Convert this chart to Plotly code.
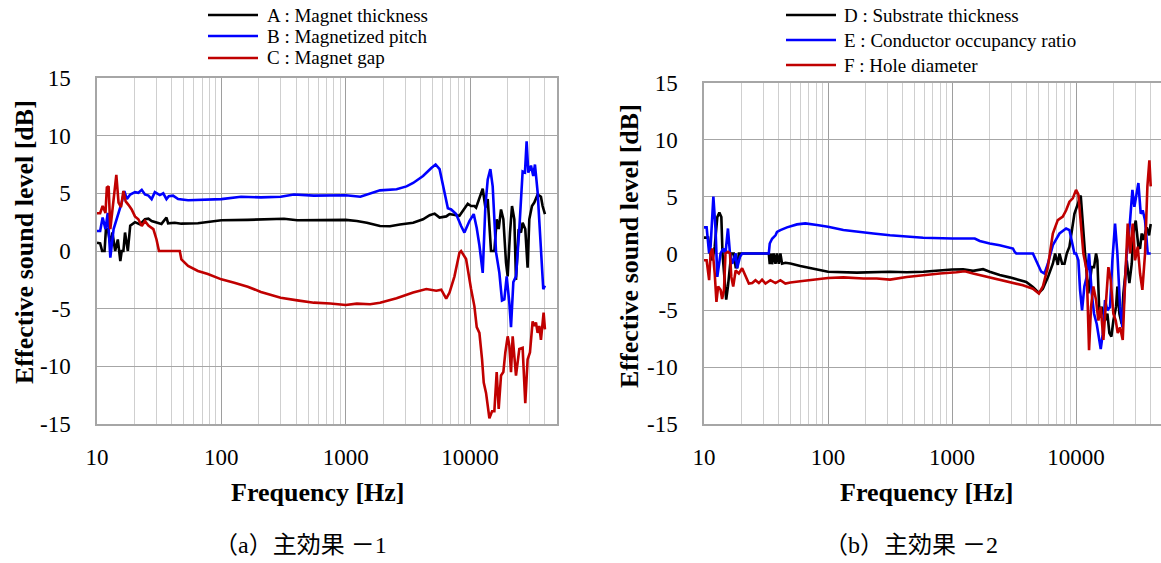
import plotly.graph_objects as go

# ---------------- data (frequency [Hz], effective sound level [dB]) ----------------
A_f = [10, 10.6, 11.0, 11.5, 11.8, 12.2, 12.8, 13.3, 14.0, 14.7, 15.4, 15.8, 16.3, 16.8, 17.7, 18.5,
       20.2, 22.2, 24.3, 25.9, 27.5, 30.1, 33.0, 36.2, 37.3, 42.2, 47.7, 64.8, 88.1, 100, 163, 300,
       319, 408, 554, 1000, 1228, 1477, 1887, 2268, 2726, 3484, 4186, 4732, 5188, 5687, 6429, 6826,
       8212, 9580, 10186, 10835, 11174, 11884, 12639, 13279, 13866, 14744, 15679, 16369, 16986,
       17737, 18518, 19455, 20064, 20947, 21737, 22693, 23401, 24583, 25660, 26461, 27795, 29020,
       29940, 31450, 32840, 34930, 37140, 38310, 40000]
A_v = [0.72, 0.66, 0.0, 0.0, 1.9, 1.9, 0.6, 1.6, 0.0, 1.0, -0.87, 0.0, 0.0, 1.6, 0.0, 2.2,
       2.5, 2.3, 2.75, 2.8, 2.6, 2.5, 2.35, 2.9, 2.4, 2.45, 2.37, 2.4, 2.6, 2.66, 2.7, 2.75,
       2.8, 2.66, 2.66, 2.7, 2.6, 2.45, 2.17, 2.14, 2.3, 2.45, 2.75, 3.1, 3.24, 2.9, 3.0, 3.2,
       3.05, 4.1, 3.9, 3.9, 3.76, 4.5, 5.4, 3.76, 4.5, 0.0, 0.0, 2.75, 1.9,
       3.6, 2.75, -1.0, -2.2, 1.6, 3.9, 2.75, -2.5, 1.9, 1.6, 2.45, 1.9, -1.45,
       2.75, 3.9, 4.2, 4.9, 4.7, 3.9, 3.2]

B_f = [10, 10.6, 11.1, 11.7, 12.2, 12.8, 13.6, 14.9, 15.8, 16.6, 17.4, 18.5, 20.2, 21.5, 22.9,
       24.3, 25.9, 27.5, 29.2, 32.0, 34.1, 36.2, 37.8, 40.9, 44.9, 54.0, 68.9, 100, 144, 208, 300,
       383, 554, 1000, 1312, 1571, 1887, 2564, 3082, 3484, 4186, 4880, 5284, 5687, 6236, 6628,
       7047, 7725, 8470, 9006, 9880, 10700, 11310, 11884, 12639, 13279, 13866, 14560, 15200,
       16170, 17200, 18060, 18860, 19700, 20690, 21337, 22279, 23401, 24885, 26461, 27625,
       28490, 29390, 30880, 32230, 33240, 34930, 37140, 38780, 40000]
B_v = [1.73, 1.73, 2.9, 1.9, 3.3, -0.58, 1.9, 3.3, 4.2, 5.2, 4.5, 4.9, 5.1, 5.05, 5.3,
       4.9, 4.8, 4.5, 5.1, 4.85, 5.0, 4.5, 4.75, 4.8, 4.5, 4.4, 4.45, 4.5, 4.7, 4.65, 4.7,
       4.9, 4.8, 4.83, 4.7, 5.0, 5.26, 5.35, 5.6, 5.9, 6.5, 7.2, 7.5, 7.1, 5.1, 3.7,
       3.6, 3.2, 2.17, 1.6, 2.6, 3.2, 2.0, 0.5, -1.9, 3.9, 6.2, 7.1, 5.6,
       -0.1, -1.9, -4.3, -4.2, -2.2, -4.5, -6.6, -2.7, -2.2, 1.9, 6.9, 6.8,
       9.5, 6.8, 7.4, 6.5, 7.5, 5.1, -0.1, -3.3, -3.0]

C_f = [10, 10.6, 11.1, 11.7, 12.0, 12.4, 12.8, 13.6, 14.3, 14.9, 15.6, 16.3, 17.0, 17.9, 19.0,
       20.2, 21.5, 22.9, 24.3, 25.9, 28.4, 30.1, 31.5, 46.3, 47.7, 54.0, 64.8, 77.9, 100, 127,
       163, 208, 265, 300, 408, 554, 752, 1000, 1228, 1571, 1887, 2564, 3484, 4450, 5348, 5865,
       6429, 6835, 7492, 8214, 8470, 9288, 10186, 10835, 11310, 11884, 12484, 12876, 13440,
       13950, 14300, 15020, 15679, 16369, 16986, 17737, 18518, 19210, 20064, 20690, 21337,
       22000, 22693, 23401, 24885, 26461, 27795, 29020, 30310, 31840, 32840, 33870, 34930,
       36020, 37140, 38310, 39020, 40000]
C_v = [3.27, 3.27, 3.9, 3.3, 5.5, 5.6, 1.9, 4.5, 6.6, 4.2, 3.8, 5.2, 4.3, 4.0, 3.6,
       3.0, 2.75, 2.17, 2.6, 2.2, 1.9, 1.0, 0.0, 0.0, -0.72, -1.3, -1.73, -2.0, -2.46, -2.75,
       -3.1, -3.55, -3.84, -4.05, -4.28, -4.48, -4.55, -4.68, -4.56, -4.62, -4.48, -4.1, -3.6,
       -3.3, -3.45, -3.35, -4.13, -3.6, -2.2, -0.15, 0.0, -0.7, -3.3, -4.8, -6.6, -7.1, -9.4,
       -11.4, -12.3, -13.7, -14.5, -13.9, -13.9, -10.5, -13.7, -10.8, -10.5, -8.8, -7.4, -8.2,
       -10.5, -7.4, -8.8, -10.8, -8.5, -8.4, -13.2, -9.4, -8.8, -6.1, -6.5, -6.2, -7.1,
       -6.5, -7.7, -5.8, -5.35, -6.8]

D_f = [10, 10.8, 11.2, 11.7, 12.2, 12.8, 13.3, 13.8, 14.1, 14.7, 15.1, 15.6, 16.2, 16.6, 17.4,
       18.0, 18.5, 19.1, 33.3, 33.9, 34.8, 35.4, 36.5, 37.7, 38.8, 40.1, 41.3, 42.6, 45.3, 49.7,
       59.8, 72.0, 100, 171, 232, 316, 431, 586, 1000, 1229, 1479, 1779, 2013, 2422, 2914, 3506,
       3966, 4487, 5015, 5400, 5924, 6499, 6785, 7126, 7350, 7724, 8064, 8420, 8845, 9700,
       10910, 11820, 12570, 13380, 13970, 14500, 14860, 15420, 16100, 17130, 17890, 18570,
       19270, 20000, 21020, 21540, 22360, 23350, 24090, 25620, 26920, 28120, 29000, 30280,
       31820, 32820, 33850, 34910, 36010, 37140, 38790, 40000]
D_v = [1.4, 1.4, 0.0, -0.6, 0.6, 3.2, 3.6, 3.2, 0.0, -2.9, -4.06, -2.9, -1.2, 0.0, 0.0,
       -1.2, -1.2, 0.0, 0.0, -0.94, 0.0, -0.94, 0.0, -0.9, 0.0, -0.9, 0.0, -0.9, -0.82, -0.88,
       -1.1, -1.3, -1.6, -1.68, -1.65, -1.6, -1.65, -1.6, -1.41, -1.38, -1.53, -1.38, -1.6,
       -1.9, -2.1, -2.3, -2.5, -2.94, -3.47, -3.1, -2.1, -0.9, 0.0, -1.0, 0.0, -0.9, -0.9, 0.0,
       0.6, 3.5, 5.1, 0.0, -3.5, -1.2, -1.2, 0.0, -0.6, -5.3, -4.7, -5.9, -5.3, -7.0,
       -7.3, -5.9, -4.7, -2.9, -5.3, -6.2, -3.5, -0.6, -2.6, -0.9, 1.76, 2.9,
       0.6, 0.44, 1.76, 1.2, 1.76, 2.3, 1.6, 2.6]

E_f = [10, 10.5, 11.0, 11.3, 11.9, 12.4, 12.8, 13.2, 13.6, 14.3, 14.9, 15.6, 16.2, 16.9, 18.0,
       18.5, 19.5, 20.3, 33.3, 33.9, 35.4, 37.7, 38.8, 41.3, 46.7, 56.2, 65.6, 81.4, 100, 133,
       171, 232, 316, 431, 586, 1000, 1229, 1525, 1673, 2013, 2422, 3099, 3197, 3297, 4487,
       4773, 5236, 5569, 5924, 6499, 7350, 8317, 8845, 9700, 10000, 10440, 10770, 11180, 11670,
       12190, 12730, 13380, 13970, 14680, 15330, 15810, 16410, 17130, 17890, 18800, 19630,
       20630, 21540, 22640, 23640, 24380, 25620, 27260, 28470, 29540, 30850, 31820, 33230,
       34480, 36010, 37840, 40000]
E_v = [2.3, 2.3, 0.0, 0.6, 5.0, 2.06, -2.06, -0.9, 0.0, 0.44, 0.0, 2.2, 0.0, -0.9, 0.0,
       -1.3, -0.3, 0.0, 0.0, 0.88, 1.3, 1.6, 1.9, 2.06, 2.3, 2.56, 2.65, 2.5, 2.35, 2.06,
       1.9, 1.76, 1.6, 1.47, 1.38, 1.32, 1.32, 1.32, 1.1, 0.88, 0.73, 0.44, 0.15, 0.0, 0.0,
       -0.6, -1.6, -1.76, -0.9, 0.73, 1.76, 2.2, 2.06, 0.0, 0.0, -0.6, -3.2, -5.0, -2.9,
       -2.05, 0.0, -3.5, -5.3, -6.2, -7.6, -8.4, -7.1, -4.1, -5.0, -4.7, -0.6,
       2.64, 0.0, -4.7, -6.5, -3.5, 0.0, 2.9, 5.6, 4.1, 5.6, 6.2, 3.5,
       3.8, 2.9, 0.0, 0.0]

F_f = [10, 10.5, 11.0, 11.3, 11.7, 12.2, 12.6, 13.0, 13.6, 14.0, 14.5, 14.9, 15.6, 16.2, 16.6,
       17.2, 18.0, 19.1, 20.3, 21.6, 23.0, 24.5, 26.0, 27.7, 29.4, 31.3, 34.3, 37.7, 41.3, 45.3,
       49.7, 59.8, 76.6, 100, 133, 193, 247, 316, 431, 586, 798, 1086, 1267, 1479, 1779, 2278,
       2914, 3729, 4487, 5015, 5400, 5924, 6499, 7126, 7820, 8317, 8845, 9408, 10000, 10440,
       11460, 12190, 12730, 13210, 13790, 14500, 15140, 15810, 16610, 17450, 18230, 19040,
       20000, 20890, 21680, 22640, 23790, 24840, 26100, 27260, 28640, 29910, 31430, 32820,
       34260, 36010, 37610, 39030, 40000]
F_v = [-0.6, -0.6, -2.35, 0.0, 0.44, -1.76, -4.26, -2.9, -3.2, -4.0, -3.2, 0.0, 0.15, 0.0, -2.06,
       -2.9, -1.5, -1.76, -1.3, -2.06, -2.65, -2.6, -2.35, -2.6, -2.3, -2.65, -2.35, -2.6, -2.35,
       -2.65, -2.55, -2.44, -2.3, -2.15, -2.1, -2.2, -2.2, -2.3, -2.06, -1.9, -1.76, -1.65, -1.56,
       -1.76, -1.97, -2.2, -2.5, -2.8, -3.1, -3.53, -2.9, -1.2, 1.76, 2.94, 3.24, 3.8, 4.56, 4.85,
       5.6, 5.2, 0.0, -1.5, -8.5, -4.7, -2.9, -4.1, -5.9, -4.7, -7.6, -3.8, -1.2, -2.35,
       -5.3, -5.9, -7.0, -6.5, -7.6, -2.6, 2.64, 0.0, 2.64, -0.6, 0.6, -1.76,
       -3.2, 0.0, 5.9, 8.2, 5.9]

names_left = ["A : Magnet thickness", "B : Magnetized pitch", "C : Magnet gap"]
names_right = ["D : Substrate thickness", "E : Conductor occupancy ratio", "F : Hole diameter"]
colors = ["#000000", "#0000FF", "#C00000"]

x_major = [10, 100, 1000, 10000]
x_major_text = ["10", "100", "1000", "10000"]
x_minor = [m * d for d in (10, 100, 1000) for m in range(2, 10)] + [20000, 30000, 40000]
y_ticks = [-15, -10, -5, 0, 5, 10, 15]
y_ticktext = ["-15", "-10", "-5", "0", "5", "10", "15"]

FONT = "Liberation Serif, Times New Roman, Noto Sans CJK JP, serif"
W, H = 1161, 563
LW = 2.6

fig = go.Figure()
for f, v, n, c in zip([A_f, B_f, C_f], [A_v, B_v, C_v], names_left, colors):
    fig.add_trace(go.Scatter(x=f, y=v, name=n, mode="lines", line=dict(color=c, width=LW),
                             xaxis="x", yaxis="y", showlegend=False))
for f, v, n, c in zip([D_f, E_f, F_f], [D_v, E_v, F_v], names_right, colors):
    fig.add_trace(go.Scatter(x=f, y=v, name=n, mode="lines", line=dict(color=c, width=LW),
                             xaxis="x2", yaxis="y2", showlegend=False))


def xax(domain, rng, anchor):
    return dict(type="log", domain=domain, range=rng, anchor=anchor, automargin=False,
                tickmode="array", tickvals=x_major, ticktext=x_major_text,
                showgrid=True, gridcolor="#9e9e9e", gridwidth=1.3,
                minor=dict(tickmode="array", tickvals=x_minor, showgrid=True,
                           gridcolor="#cfcfcf", gridwidth=1.3, ticks=""),
                showline=True, mirror=True, linecolor="#a6a6a6", linewidth=1.5,
                ticks="", ticklabelstandoff=12, zeroline=False,
                tickfont=dict(family=FONT, size=23, color="#000000"))


def yax(domain, anchor):
    return dict(domain=domain, range=[-15, 15], anchor=anchor, automargin=False,
                tickmode="array", tickvals=y_ticks, ticktext=y_ticktext,
                showgrid=True, gridcolor="#a6a6a6", gridwidth=1.3,
                showline=True, mirror=True, linecolor="#a6a6a6", linewidth=1.5,
                ticks="", ticklabelstandoff=20, zeroline=False,
                tickfont=dict(family=FONT, size=23, color="#000000"))


fig.update_layout(
    width=W, height=H, margin=dict(l=0, r=0, t=0, b=0, autoexpand=False),
    paper_bgcolor="white", plot_bgcolor="white",
    xaxis=xax([97 / W, 557 / W], [1, 4.699], "y"),
    yaxis=yax([1 - 424 / H, 1 - 78 / H], "x"),
    xaxis2=xax([704 / W, 1.0], [1, 4.685], "y2"),
    yaxis2=yax([1 - 424 / H, 1 - 83 / H], "x2"),
    showlegend=False,
)

# legend keys (sample line + label) for each panel
legend_rows = [
    (names_left, [15, 36, 58], 208, 258, 265),
    (names_right, [15, 40, 65], 786, 836, 842),
]
leg_font = dict(family=FONT, size=19, color="#000000")
for names, rows, x0, x1, xt in legend_rows:
    for n, yy, c in zip(names, rows, colors):
        fig.add_shape(type="line", xref="paper", yref="paper",
                      x0=x0 / W, x1=x1 / W, y0=1 - yy / H, y1=1 - yy / H,
                      line=dict(color=c, width=2.6))
        fig.add_annotation(text=n, xref="paper", yref="paper", x=xt / W, y=1 - yy / H,
                           xanchor="left", yanchor="middle", showarrow=False, font=leg_font)


def label(text, x, y, font, angle=0):
    fig.add_annotation(text=text, textangle=angle, xref="paper", yref="paper",
                       x=x / W, y=1 - y / H, xanchor="center", yanchor="middle",
                       showarrow=False, font=font)


ann_font_b = dict(family=FONT, size=26, color="#000000")
label("<b>Effective sound level [dB]</b>", 24, 242, ann_font_b, -90)
label("<b>Effective sound level [dB]</b>", 630, 246, ann_font_b, -90)
label("<b>Frequency [Hz]</b>", 318, 492, ann_font_b)
label("<b>Frequency [Hz]</b>", 927, 492, ann_font_b)

cap_font = dict(family=FONT, size=24, color="#000000")
label("（a）主効果 －1", 300, 545, cap_font)
label("（b）主効果 －2", 911, 545, cap_font)

fig.write_html("out.html")
